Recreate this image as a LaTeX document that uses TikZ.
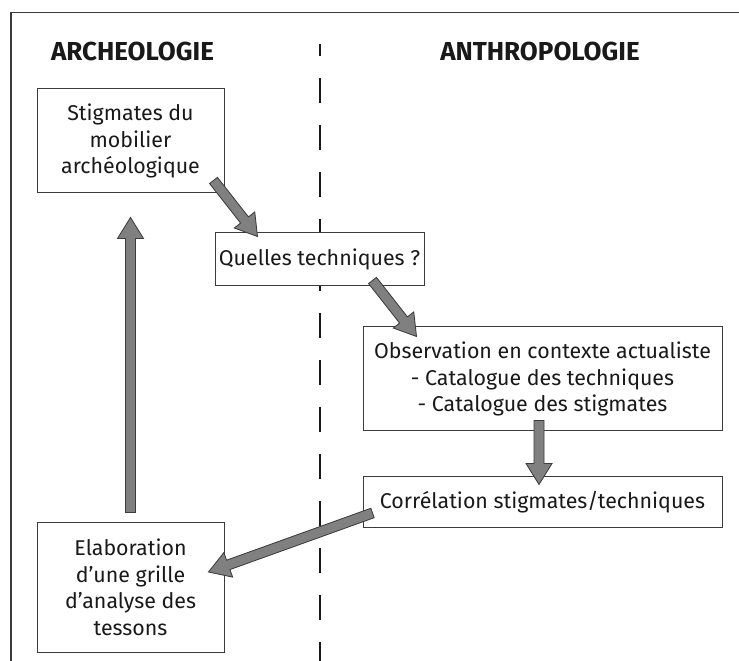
\documentclass[tikz,border=0pt]{standalone}
\usepackage{fontspec}
\setmainfont{Fira Sans}
\usetikzlibrary{calc}
\definecolor{arrowgray}{RGB}{128,128,128}
\definecolor{edgegray}{RGB}{60,60,60}
\definecolor{inkblack}{RGB}{25,25,25}
\tikzset{
	box/.style={draw=edgegray, line width=0.7pt, fill=white, align=center, text=inkblack, inner sep=0pt, font=\fontsize{15.2}{18.9}\selectfont},
	heading/.style={text=inkblack, font=\fontsize{18.5}{22}\selectfont\bfseries},
	arrowbody/.style={draw=edgegray, fill=arrowgray, line width=0.6pt, line join=miter},
}
\def\fatarrow(#1)(#2){
	\coordinate (fa-h) at ($(#2)!0.525cm!(#1)$);
	\draw[arrowbody] ($(#1)!0.125cm!90:(#2)$) -- ($(fa-h)!0.125cm!90:(#2)$) -- ($(fa-h)!0.325cm!90:(#2)$) -- (#2) -- ($(fa-h)!0.325cm!-90:(#2)$) -- ($(fa-h)!0.125cm!-90:(#2)$) -- ($(#1)!0.125cm!-90:(#2)$) -- cycle;}

\begin{document}
\begin{tikzpicture}
			%%%%% START %%%%%
			
			\useasboundingbox (0, 0) rectangle (18.475, 16.525);
			\draw[edgegray, line width=1pt] (0.275, 0) -- (0.275, 16.2125) -- (18.475, 16.2125);
			\draw[inkblack, line width=0.9pt, dash pattern=on 0.625cm off 0.55cm, dash phase=0.325cm] (8, 15.425) -- (8, 0);
			
			\node[heading] (archeo) at (3.3125, 15.225) {ARCHEOLOGIE};
			\node[heading] (anthropo) at (13.5, 15.225) {ANTHROPOLOGIE};
			
			\node[box, minimum width=4.675cm, minimum height=2.6cm] (stigmates) at (3.2625, 13) {Stigmates du\\mobilier\\archéologique};
			\node[box, minimum width=5.225cm, minimum height=1.325cm] (techniques) at (7.9875, 10.0375) {Quelles techniques ?};
			\node[box, minimum width=8.975cm, minimum height=2.6cm] (observation) at (13.5625, 7.05) {Observation en contexte actualiste\\- Catalogue des techniques\\- Catalogue des stigmates};
			\node[box, minimum width=8.975cm, minimum height=1.275cm] (correlation) at (13.5625, 3.9625) {Corrélation stigmates/techniques};
			\node[box, minimum width=4.675cm, minimum height=3.225cm] (grille) at (3.2625, 1.8375) {Elaboration\\d’une grille\\d’analyse des\\tessons};
			
			\coordinate (a1s) at ([shift={(-0.275, 0.325)}]stigmates.south east);
			\coordinate (a1e) at ([shift={(1.075, -0.1)}]techniques.north west);
			\coordinate (a2s) at ([shift={(-1.3, 0.15)}]techniques.south east);
			\coordinate (a2e) at ([shift={(1.35, -0.25)}]observation.north west);
			\coordinate (a3s) at ([shift={(-0.0875, 0.275)}]observation.south);
			\coordinate (a3e) at ([shift={(-0.0875, -0.2)}]correlation.north);
			\coordinate (a4s) at ([shift={(0.25, -0.2625)}]correlation.west);
			\coordinate (a4e) at ([shift={(-0.4, 0.3875)}]grille.east);
			\coordinate (a5s) at ([shift={(0, 0.25)}]grille.north);
			\coordinate (a5e) at ([shift={(0, -0.6)}]stigmates.south);
			
			\fatarrow(a1s)(a1e)
			\fatarrow(a2s)(a2e)
			\fatarrow(a3s)(a3e)
			\fatarrow(a4s)(a4e)
			\fatarrow(a5s)(a5e)
			
			%%%%% END %%%%%
		\end{tikzpicture}
\end{document}
